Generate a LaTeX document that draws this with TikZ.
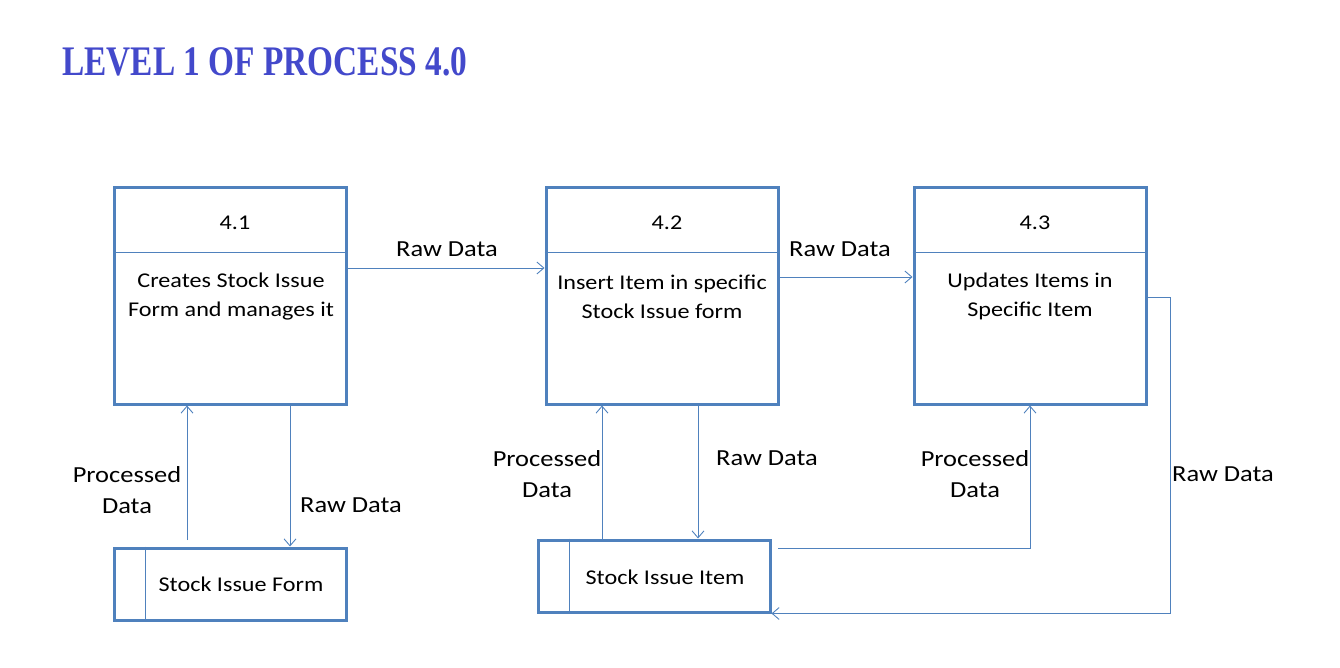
\documentclass[tikz,border=0pt]{standalone}
\usepackage{fontspec}
\setmainfont{Carlito}[FakeStretch=1.15]
\newfontfamily\titlefont{Liberation Serif}
\usetikzlibrary{arrows.meta}
\definecolor{boxblue}{HTML}{4F81BD}
\definecolor{titleblue}{HTML}{4349CB}
\begin{document}
\begin{tikzpicture}[x=1pt,y=-1pt,
  proc/.style={draw=boxblue, line width=3pt, inner sep=0pt, minimum width=232pt, minimum height=216pt},
  store/.style={draw=boxblue, line width=3pt, inner sep=0pt, minimum width=232pt, minimum height=72pt},
  divider/.style={draw=boxblue, line width=0.9pt},
  flow/.style={draw=boxblue, line width=0.9pt, -{Straight Barb[length=7pt,width=12pt]}},
  txt/.style={font=\fontsize{23}{31}\selectfont, align=center, inner sep=0pt, text=black},
  btxt/.style={font=\fontsize{21}{29}\selectfont, align=center, inner sep=0pt, text=black},
  ttl/.style={anchor=south west, inner sep=0pt, text=titleblue}]
\useasboundingbox (0,0) rectangle (1340,668);
% title
\node[ttl] (title) at (62,76) {\resizebox{405pt}{28pt}{\titlefont\bfseries LEVEL 1 OF PROCESS 4.0}};
% processes
\node[proc] (p1) at (230.5,296) {};
\node[proc] (p2) at (662,296) {};
\node[proc] (p3) at (1030,296) {};
\draw[divider] (p1.west |- 0,252) -- (p1.east |- 0,252);
\draw[divider] (p2.west |- 0,252) -- (p2.east |- 0,252);
\draw[divider] (p3.west |- 0,252) -- (p3.east |- 0,252);
\node[btxt] (n1) at (235,223) {4.1};
\node[btxt] (n2) at (667,223) {4.2};
\node[btxt] (n3) at (1035,223) {4.3};
\node[btxt] (d1) at (231,296.5) {Creates Stock Issue\\Form and manages it};
\node[btxt] (d2) at (662,296.5) {Insert Item in specific\\Stock Issue form};
\node[btxt] (d3) at (1030,296.5) {Updates Items in\\Specific Item};
% stores
\node[store] (s1) at (230,584) {};
\node[store] (s2) at (654,576) {};
\draw[divider] (s1.north west) ++(33,0) -- ++(0,72);
\draw[divider] (s2.north west) ++(33,0) -- ++(0,72);
\node[btxt] (t1) at (241,584) {Stock Issue Form};
\node[btxt] (t2) at (665,577) {Stock Issue Item};
% free ends
\coordinate (c1) at (187,540);
\coordinate (c2) at (602,540);
\coordinate (c3) at (778,548);
\coordinate (c4) at (1170,297);
% flows
\draw[flow] (p1.east |- 0,268) -- (p2.west |- 0,268);
\draw[flow] (p2.east |- 0,277) -- (p3.west |- 0,277);
\draw[flow] (c1) -- (p1.south -| c1);
\draw[flow] (p1.south -| 290,0) -- (s1.north -| 290,0);
\draw[flow] (c2) -- (p2.south -| c2);
\draw[flow] (p2.south -| 698,0) -- (s2.north -| 698,0);
\draw[flow] (c3) -| (p3.south -| 1030,0);
\draw[flow] (p3.east |- c4) -- (c4) |- (s2.south east);
% labels
\node[txt] (l1) at (447,249) {Raw Data};
\node[txt] (l2) at (840,249) {Raw Data};
\node[txt] (l3) at (127,490) {Processed\\Data};
\node[txt] (l4) at (351,505) {Raw Data};
\node[txt] (l5) at (547,474) {Processed\\Data};
\node[txt] (l6) at (767,458) {Raw Data};
\node[txt] (l7) at (975,474) {Processed\\Data};
\node[txt] (l8) at (1223,474) {Raw Data};
\end{tikzpicture}
\end{document}
